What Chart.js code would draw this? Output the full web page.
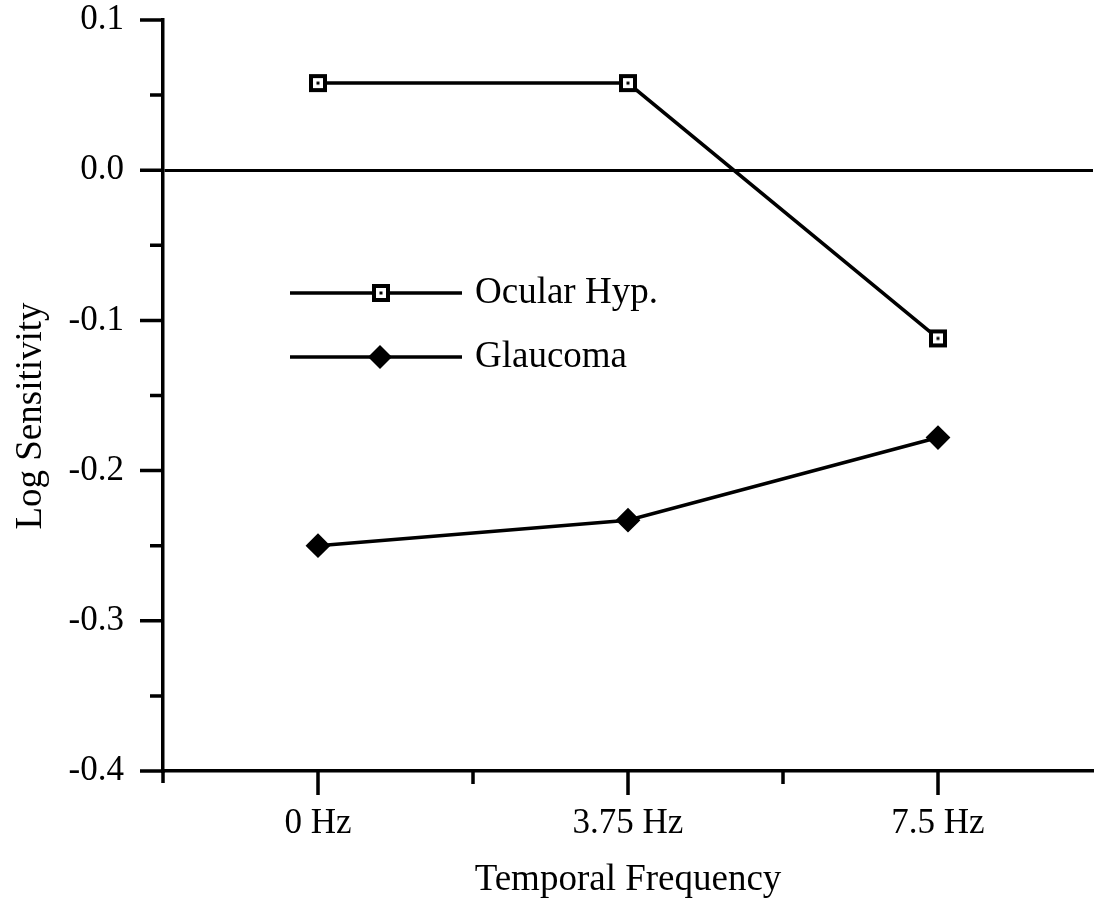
<!DOCTYPE html>
<html>
<head>
<meta charset="utf-8">
<script src="https://cdn.jsdelivr.net/npm/chart.js@4.4.1/dist/chart.umd.min.js"></script>
<style>
  html, body { margin: 0; padding: 0; background: #fff; overflow: hidden; }
  #wrap { width: 1094px; height: 904px; }
  canvas { display: block; }
</style>
</head>
<body>
<div id="wrap"><canvas id="canvas" width="1094" height="904"></canvas></div>
<script>
const categories = ['0 Hz', '3.75 Hz', '7.5 Hz']
const ocularHyp = [0.058, 0.058, -0.112]
const glaucoma = [-0.25, -0.233, -0.178]
const yTicks = [-0.4, -0.3, -0.2, -0.1, 0.0, 0.1]
const yMinorTicks = [-0.35, -0.25, -0.15, -0.05, 0.05]
const xMinorTicks = [0.5, 1.5]

const serif = '"Liberation Serif", "Times New Roman", serif'

// open square with a dot in the middle
const squareMark = document.createElement('canvas')
squareMark.width = 20
squareMark.height = 20
{
    const c = squareMark.getContext('2d')
    c.fillStyle = '#fff'
    c.fillRect(1, 1, 18, 18)
    c.strokeStyle = '#000'
    c.lineWidth = 4
    c.strokeRect(3, 3, 14, 14)
    c.fillStyle = '#000'
    c.fillRect(8.5, 8.5, 3, 3)
}

const toPoints = arr => arr.map((v, i) => ({x: i, y: v}))

const noPad = s => {
    s.paddingTop = 0
    s.paddingBottom = 0
    s.paddingLeft = 0
    s.paddingRight = 0
}

const tickPlugin = {
    id: 'tickMarks',
    afterDraw(chart) {
        const ctx = chart.ctx
        const area = chart.chartArea
        const xs = chart.scales.x
        const ys = chart.scales.y
        ctx.save()
        ctx.strokeStyle = '#000'
        ctx.lineWidth = 3.5
        ctx.beginPath()
        yTicks.forEach(v => {
            const y = ys.getPixelForValue(v)
            ctx.moveTo(area.left - 23, y)
            ctx.lineTo(area.left, y)
        })
        yMinorTicks.forEach(v => {
            const y = ys.getPixelForValue(v)
            ctx.moveTo(area.left - 13, y)
            ctx.lineTo(area.left, y)
        })
        categories.forEach((c, i) => {
            const x = xs.getPixelForValue(i)
            ctx.moveTo(x, area.bottom)
            ctx.lineTo(x, area.bottom + 24)
        })
        xMinorTicks.forEach(v => {
            const x = xs.getPixelForValue(v)
            ctx.moveTo(x, area.bottom)
            ctx.lineTo(x, area.bottom + 13)
        })
        ctx.moveTo(area.left, area.bottom)
        ctx.lineTo(area.left, area.bottom + 12)
        ctx.stroke()

        // y axis title, sits a little below the middle of the axis in the original
        ctx.fillStyle = '#000'
        ctx.font = '37px ' + serif
        ctx.translate(41, 416)
        ctx.rotate(-Math.PI / 2)
        ctx.textAlign = 'center'
        ctx.textBaseline = 'alphabetic'
        ctx.fillText('Log Sensitivity', 0, 0)
        ctx.restore()
    }
}

const legendPlugin = {
    id: 'insideLegend',
    afterDraw(chart) {
        const ctx = chart.ctx
        const rows = [
            {text: 'Ocular Hyp.', y: 293, mark: 'square'},
            {text: 'Glaucoma', y: 357, mark: 'diamond'},
        ]
        ctx.save()
        rows.forEach(r => {
            ctx.strokeStyle = '#000'
            ctx.lineWidth = 3.5
            ctx.beginPath()
            ctx.moveTo(290, r.y)
            ctx.lineTo(462, r.y)
            ctx.stroke()
            if (r.mark === 'square') {
                ctx.drawImage(squareMark, 381 - 10, r.y - 10)
            } else {
                ctx.fillStyle = '#000'
                ctx.beginPath()
                ctx.moveTo(380, r.y - 12)
                ctx.lineTo(392, r.y)
                ctx.lineTo(380, r.y + 12)
                ctx.lineTo(368, r.y)
                ctx.closePath()
                ctx.fill()
            }
            ctx.fillStyle = '#000'
            ctx.font = '37px ' + serif
            ctx.textBaseline = 'middle'
            ctx.fillText(r.text, 475, r.y)
        })
        ctx.restore()
    }
}

const data = {
    datasets: [
        {
            label: 'Ocular Hyp.',
            data: toPoints(ocularHyp),
            borderColor: '#000',
            borderWidth: 3.5,
            pointStyle: squareMark,
            pointRadius: 10,
        },
        {
            label: 'Glaucoma',
            data: toPoints(glaucoma),
            borderColor: '#000',
            backgroundColor: '#000',
            borderWidth: 3.5,
            pointStyle: 'rectRot',
            pointRadius: 11,
            pointBorderWidth: 2,
        },
    ],
}

const config = {
    type: 'line',
    data: data,
    options: {
        responsive: false,
        animation: false,
        layout: {autoPadding: false, padding: {top: 20, right: 1, left: 0, bottom: 0}},
        plugins: {legend: {display: false}, tooltip: {enabled: false}},
        scales: {
            x: {
                type: 'linear',
                min: -0.5,
                max: 2.5,
                afterBuildTicks: s => { s.ticks = categories.map((c, i) => ({value: i})) },
                afterFit: s => { s.height = 133; noPad(s) },
                grid: {display: false},
                border: {display: true, color: '#000', width: 3.5},
                ticks: {
                    color: '#000',
                    font: {family: serif, size: 35},
                    padding: 24,
                    maxRotation: 0,
                    autoSkip: false,
                    callback: v => categories[v],
                },
                title: {
                    display: true,
                    text: 'Temporal Frequency',
                    color: '#000',
                    font: {family: serif, size: 37},
                    padding: {top: 0, bottom: 2},
                },
            },
            y: {
                min: -0.4,
                max: 0.1,
                afterBuildTicks: s => { s.ticks = yTicks.map(v => ({value: v})) },
                afterFit: s => { s.width = 163; noPad(s) },
                grid: {
                    drawTicks: false,
                    color: c => (c.tick && Math.abs(c.tick.value) < 1e-9) ? '#000' : 'rgba(0,0,0,0)',
                    lineWidth: 3,
                },
                border: {display: true, color: '#000', width: 3.5},
                ticks: {
                    color: '#000',
                    font: {family: serif, size: 35},
                    padding: 39,
                    callback: v => v.toFixed(1),
                },
                title: {display: false},
            },
        },
    },
    plugins: [tickPlugin, legendPlugin],
}

const canvas = document.getElementById('canvas')
const chart = new Chart(canvas, config)
</script>
</body>
</html>
